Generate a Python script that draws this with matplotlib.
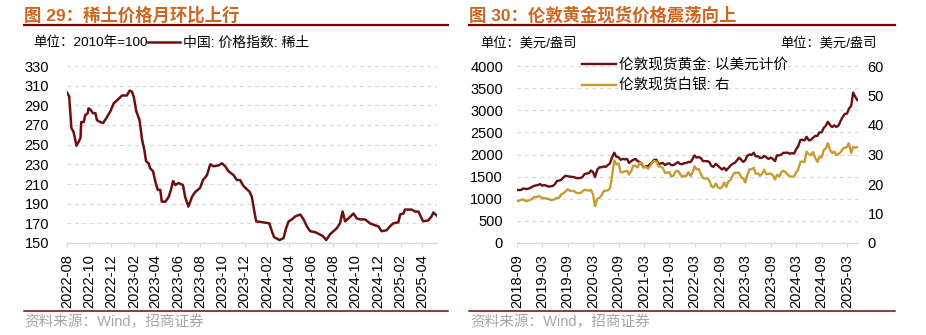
import pandas as pd
import matplotlib.pyplot as plt
from matplotlib.lines import Line2D

plt.rcParams['font.family'] = ['Liberation Sans', 'Noto Sans CJK SC', 'DejaVu Sans']

# 中国：价格指数：稀土
re_dates = ['2022-08-01', '2022-08-07', '2022-08-13', '2022-08-19', '2022-08-27', '2022-09-02',
            '2022-09-07', '2022-09-09', '2022-09-16', '2022-09-20', '2022-09-27', '2022-09-29',
            '2022-10-06', '2022-10-11', '2022-10-18', '2022-10-22', '2022-10-31', '2022-11-08',
            '2022-11-17', '2022-11-28', '2022-12-07', '2022-12-16', '2022-12-30', '2023-01-12',
            '2023-01-20', '2023-01-26', '2023-01-31', '2023-02-07', '2023-02-16', '2023-02-23',
            '2023-03-01', '2023-03-06', '2023-03-13', '2023-03-17', '2023-03-25', '2023-03-31',
            '2023-04-07', '2023-04-14', '2023-04-18', '2023-04-28', '2023-05-07', '2023-05-13',
            '2023-05-19', '2023-05-25', '2023-06-03', '2023-06-15', '2023-06-21', '2023-06-30',
            '2023-07-10', '2023-07-19', '2023-08-01', '2023-08-09', '2023-08-20', '2023-08-29',
            '2023-09-07', '2023-09-21', '2023-09-30', '2023-10-09', '2023-10-18', '2023-11-01',
            '2023-11-10', '2023-11-19', '2023-11-28', '2023-12-15', '2023-12-21', '2023-12-27',
            '2024-01-02', '2024-01-22', '2024-02-07', '2024-02-14', '2024-02-20', '2024-03-06',
            '2024-03-17', '2024-03-24', '2024-03-31', '2024-04-09', '2024-04-18', '2024-05-02',
            '2024-05-11', '2024-05-20', '2024-05-29', '2024-06-12', '2024-06-23', '2024-07-03',
            '2024-07-12', '2024-07-23', '2024-08-01', '2024-08-10', '2024-08-19', '2024-08-26',
            '2024-09-02', '2024-09-11', '2024-09-25', '2024-10-04', '2024-10-13', '2024-10-27',
            '2024-11-09', '2024-11-23', '2024-12-02', '2024-12-11', '2024-12-25', '2025-01-03',
            '2025-01-12', '2025-01-26', '2025-01-31', '2025-02-09', '2025-02-13', '2025-03-03',
            '2025-03-13', '2025-03-22', '2025-03-31', '2025-04-04', '2025-04-18', '2025-04-27',
            '2025-05-02', '2025-05-11']
re_values = [303, 299, 267, 263, 249, 253,
             257, 273, 273, 280, 282, 287,
             285, 282, 282, 275, 273, 272,
             277, 284, 292, 295, 300, 300,
             305, 304, 299, 284, 275, 255,
             245, 233, 231, 226, 223, 213,
             204, 204, 192, 192, 197, 204,
             213, 209, 211, 209, 197, 187,
             197, 202, 206, 214, 219, 230,
             228, 229, 231, 228, 223, 219,
             214, 214, 208, 202, 197, 184,
             172, 171, 170, 162, 156, 153,
             155, 165, 172, 174, 177, 179,
             174, 167, 162, 161, 159, 157,
             153, 159, 162, 165, 170, 182,
             172, 175, 180, 175, 174, 174,
             170, 168, 167, 162, 163, 167,
             170, 171, 179, 180, 184, 184,
             182, 182, 175, 172, 173, 177,
             181, 178]

# 伦敦现货黄金（美元/盎司），半月数据，自2018-09起
gold_values = [1200, 1195, 1200, 1230, 1225, 1220, 1240, 1260,  # 2018
               1290, 1300, 1315, 1330, 1295, 1310, 1295, 1275, 1280, 1285, 1330, 1400,
               1410, 1425, 1480, 1520, 1510, 1500, 1495, 1490, 1470, 1465, 1470, 1490,  # 2019
               1560, 1570, 1580, 1640, 1600, 1490, 1660, 1710, 1710, 1730, 1720, 1760,
               1800, 1930, 2040, 1950, 1940, 1880, 1900, 1890, 1900, 1810, 1850, 1880,  # 2020
               1900, 1850, 1830, 1770, 1710, 1730, 1740, 1780, 1830, 1880, 1880, 1780,
               1800, 1810, 1760, 1790, 1800, 1760, 1760, 1790, 1830, 1790, 1780, 1800,  # 2021
               1810, 1830, 1830, 1900, 1980, 1930, 1940, 1920, 1850, 1850, 1850, 1830,
               1740, 1720, 1790, 1750, 1700, 1660, 1700, 1640, 1700, 1750, 1790, 1810,  # 2022
               1870, 1930, 1880, 1830, 1870, 1970, 2000, 1990, 2040, 1960, 1960, 1920,
               1930, 1970, 1930, 1900, 1930, 1900, 1850, 1980, 1980, 2000, 2040, 2040,  # 2023
               2040, 2020, 2030, 2020, 2120, 2180, 2330, 2330, 2320, 2400, 2320, 2330,
               2380, 2420, 2420, 2500, 2500, 2600, 2650, 2740, 2660, 2620, 2660, 2620,  # 2024
               2660, 2760, 2860, 2920, 2920, 3030, 3100, 3400, 3300, 3230]  # 2025

# 伦敦现货白银（美元/盎司，右轴）
silver_values = [14.2, 14.3, 14.6, 14.7, 14.3, 14.2, 14.6, 14.8,  # 2018
                 15.6, 15.5, 15.8, 15.8, 15.2, 15.2, 15.0, 15.0, 14.6, 14.6, 14.9, 15.3,
                 15.3, 16.4, 16.9, 17.4, 18.2, 17.8, 17.6, 17.7, 17.0, 16.9, 17.0, 17.4,  # 2019
                 18.1, 17.9, 17.7, 18.0, 16.5, 12.5, 15.0, 15.3, 16.2, 17.5, 17.8, 17.8,
                 18.6, 22.5, 28.0, 26.7, 27.0, 24.0, 24.0, 24.3, 24.5, 23.2, 24.4, 26.2,  # 2020
                 26.2, 25.6, 27.3, 27.0, 25.6, 25.8, 25.2, 26.0, 27.3, 27.8, 27.6, 26.0,
                 25.9, 25.5, 23.8, 23.8, 24.0, 22.6, 22.8, 24.2, 24.5, 23.5, 22.4, 22.8,  # 2021
                 22.7, 24.0, 22.7, 24.0, 26.0, 25.0, 25.0, 23.5, 22.0, 21.8, 21.9, 21.2,
                 19.2, 18.8, 20.2, 19.0, 18.5, 19.0, 20.5, 19.0, 21.0, 21.3, 23.0, 23.8,  # 2022
                 23.8, 23.8, 22.2, 21.8, 20.5, 22.8, 25.0, 25.0, 25.5, 23.5, 23.6, 22.8,
                 23.5, 24.8, 23.3, 23.5, 23.5, 23.0, 21.5, 23.1, 22.5, 24.0, 24.5, 24.0,  # 2023
                 23.2, 22.6, 22.5, 22.6, 24.0, 24.8, 27.5, 27.6, 27.5, 31.0, 30.0, 29.8,
                 30.8, 29.0, 27.5, 29.2, 29.0, 31.5, 32.0, 33.8, 31.5, 30.5, 31.0, 29.8,  # 2024
                 30.2, 30.8, 32.0, 32.3, 32.5, 33.8, 30.5, 32.6, 32.3, 32.5]  # 2025

re_dates = pd.to_datetime(re_dates)
pm_dates = pd.date_range('2018-09-01', periods=len(gold_values), freq='SMS')

left_ticks = pd.date_range('2022-08-01', '2025-04-01', freq='2MS')
right_ticks = pd.date_range('2018-09-01', '2025-03-01', freq='6MS')

title_color = '#CD661E'
rule_color = '#7F0000'
grid_color = '#D9D9D9'
tick_size = 10.5

fig = plt.figure(figsize=(9.26, 3.35), dpi=100)


def px_x(p):
    return p / 926


def px_y(p):
    return 1 - p / 335


def style_axes(ax):
    for s in ['top', 'left', 'right']:
        ax.spines[s].set_visible(False)
    ax.spines['bottom'].set_color(grid_color)
    ax.spines['bottom'].set_linewidth(1.0)
    ax.yaxis.grid(True, color=grid_color, linestyle=(0, (3, 3)), linewidth=0.9)
    ax.set_axisbelow(True)
    ax.tick_params(axis='x', direction='out', length=3, color=grid_color,
                   labelsize=tick_size, pad=5)


# 左图
ax1 = fig.add_axes([px_x(67), px_y(243), px_x(437 - 67), (243 - 66) / 335])
ax1.plot(re_dates, re_values, color='#6E0F0F', lw=1.8, label='中国: 价格指数: 稀土')
ax1.set_ylim(150, 330)
ax1.set_yticks(range(150, 331, 20))
ax1.set_xlim(pd.Timestamp('2022-08-01'), pd.Timestamp('2025-05-12'))
ax1.set_xticks(left_ticks)
ax1.set_xticklabels([d.strftime('%Y-%m') for d in left_ticks], rotation=90)
style_axes(ax1)
ax1.tick_params(axis='y', length=0, labelsize=tick_size, pad=13)
ax1.legend(loc='center left', bbox_to_anchor=(px_x(148), px_y(43)),
           bbox_transform=fig.transFigure, frameon=False, fontsize=10,
           handlelength=2.3, handletextpad=0.25, borderpad=0, borderaxespad=0)

# 右图
ax2 = fig.add_axes([px_x(517), px_y(243), px_x(858 - 517), (243 - 66) / 335])
ax3 = ax2.twinx()
ax2.plot(pm_dates, gold_values, color='#6E0F0F', lw=1.7, label='伦敦现货黄金: 以美元计价')
ax3.plot(pm_dates, silver_values, color='#C89B30', lw=1.7, label='伦敦现货白银: 右')
ax2.set_ylim(0, 4000)
ax2.set_yticks(range(0, 4001, 500))
ax3.set_ylim(0, 60)
ax3.set_yticks(range(0, 61, 10))
ax2.set_xlim(pd.Timestamp('2018-09-01'), pd.Timestamp('2025-05-20'))
ax2.set_xticks(right_ticks)
ax2.set_xticklabels([d.strftime('%Y-%m') for d in right_ticks], rotation=90)
style_axes(ax2)
for s in ['top', 'left', 'right', 'bottom']:
    ax3.spines[s].set_visible(False)
ax2.tick_params(axis='y', length=0, labelsize=tick_size, pad=10)
ax3.tick_params(axis='y', length=0, labelsize=tick_size, pad=7)
h1, l1 = ax2.get_legend_handles_labels()
h2, l2 = ax3.get_legend_handles_labels()
ax3.legend(h1 + h2, l1 + l2, loc='upper left', bbox_to_anchor=(px_x(582), px_y(58)),
           bbox_transform=fig.transFigure, frameon=False, fontsize=10.5,
           handlelength=2.3, handletextpad=0.25, labelspacing=0.45,
           borderpad=0, borderaxespad=0)

# 标题、单位、来源
fig.text(px_x(24), px_y(15), '图 29：稀土价格月环比上行', color=title_color,
         fontsize=12.5, fontweight='bold', va='center', ha='left')
fig.text(px_x(469), px_y(15), '图 30：伦敦黄金现货价格震荡向上', color=title_color,
         fontsize=12.5, fontweight='bold', va='center', ha='left')
fig.text(px_x(33), px_y(43), '单位：2010年=100', fontsize=9.7, va='center', ha='left')
fig.text(px_x(480), px_y(43), '单位：美元/盎司', fontsize=9.5, va='center', ha='left')
fig.text(px_x(780), px_y(43), '单位：美元/盎司', fontsize=9.5, va='center', ha='left')
fig.text(px_x(24), px_y(322), '资料来源：Wind，招商证券', color='#A6A6A6',
         fontsize=10.5, va='center', ha='left')
fig.text(px_x(470), px_y(322), '资料来源：Wind，招商证券', color='#A6A6A6',
         fontsize=10.5, va='center', ha='left')

for x0, x1 in [(24, 448), (469, 895)]:
    fig.add_artist(Line2D([px_x(x0), px_x(x1)], [px_y(25), px_y(25)],
                          transform=fig.transFigure, color=rule_color, lw=1.6))
    fig.add_artist(Line2D([px_x(x0), px_x(x1)], [px_y(311), px_y(311)],
                          transform=fig.transFigure, color=rule_color, lw=1.1))

fig.savefig('out.png', dpi=100)
